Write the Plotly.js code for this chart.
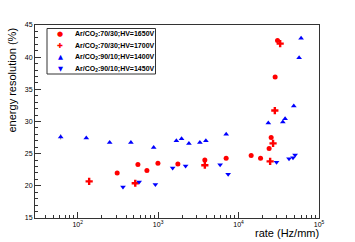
<!DOCTYPE html>
<html><head><meta charset="utf-8">
<script src="https://cdn.plot.ly/plotly-3.0.1.min.js"></script>
<style>html,body{margin:0;padding:0;background:#fff}#c{width:355px;height:242px}</style>
</head><body><div id="c"></div>
<script>
// Data
const seriesNames = [
  "Ar/CO<sub>2</sub>:70/30;HV=1650V",
  "Ar/CO<sub>2</sub>:70/30;HV=1700V",
  "Ar/CO<sub>2</sub>:90/10;HV=1400V",
  "Ar/CO<sub>2</sub>:90/10;HV=1450V"
];
const rate1650 = [310, 561, 726, 995, 1760, 3810, 7010, 14350, 18770, 23990, 25420, 28500, 30500];
const res1650  = [22.0, 23.3, 22.4, 23.5, 23.4, 24.0, 24.3, 24.7, 24.3, 25.8, 27.5, 36.9, 42.6];
const rate1700 = [139, 520, 3810, 24700, 26850, 28250, 32900];
const res1700  = [20.7, 20.4, 23.2, 23.8, 26.6, 31.7, 42.1];
const rate1400 = [61.5, 128, 250, 459, 881, 1687, 1957, 2415, 3306, 3925, 7020, 23440, 35500, 37900, 48600, 56600, 59900];
const res1400  = [27.6, 27.45, 26.75, 26.75, 25.95, 27.0, 27.3, 26.57, 26.75, 27.0, 28.0, 29.75, 29.94, 30.43, 32.4, 39.9, 42.95];
const err1400  = [0.4, 0, 0, 0, 0, 0, 0, 0, 0, 0, 0, 0, 0, 0, 0, 0, 0];
const rate1450 = [366, 581, 925, 1517, 2197, 5903, 7425, 29650, 42400, 47500, 50450];
const res1450  = [19.8, 20.6, 20.2, 22.76, 23.07, 23.29, 21.79, 23.65, 24.22, 24.35, 24.78];
const xTickVals = [100, 1000, 10000, 100000];
const xTickText = ["10<sup>2</sup>", "10<sup>3</sup>", "10<sup>4</sup>", "10<sup>5</sup>"];
const xTitle = "rate (Hz/mm)";
const yTitle = "energy resolution (%)";

const colors = ["#ff0000", "#ff0000", "#0000ff", "#0000ff"];
const symbols = ["circle", "cross", "triangle-up", "triangle-down"];
const glyphs = ["\u25CF", "\u271A", "\u25B2", "\u25BC"];
const xs = [rate1650, rate1700, rate1400, rate1450];
const ys = [res1650, res1700, res1400, res1450];
const sizes = [5, 6, 5, 5];

const traces = xs.map((x, i) => {
  const t = {x: x, y: ys[i], type: "scatter", mode: "markers", name: seriesNames[i],
    marker: {color: colors[i], symbol: symbols[i], size: sizes[i], line: {width: 0}},
    showlegend: false, hoverinfo: "skip"};
  if (i === 2) t.error_y = {type: "data", array: err1400, color: "#888", thickness: 1, width: 0};
  return t;
});

const L = 35, R = 36, T = 25, B = 24, W = 355, H = 242;
const pw = W - L - R, ph = H - T - B;
const px = v => (v - L) / pw;
const py = v => (H - B - v) / ph;

const annotations = [];
const rowY = [34, 45.5, 57, 68.5];
const glyphSize = [7, 7, 6.5, 6.5];
seriesNames.forEach((n, i) => {
  annotations.push({xref: "paper", yref: "paper", x: px(60), y: py(rowY[i]), text: glyphs[i],
    showarrow: false, xanchor: "center", yanchor: "middle",
    font: {family: "DejaVu Sans", size: glyphSize[i], color: colors[i]}});
  annotations.push({xref: "paper", yref: "paper", x: px(73), y: py(rowY[i]), text: "<b>" + n + "</b>",
    showarrow: false, xanchor: "left", yanchor: "middle",
    font: {family: "Liberation Sans", size: 7, color: "#000"}});
});
annotations.push({xref: "paper", yref: "paper", x: 1, y: py(233), text: xTitle, showarrow: false,
  xanchor: "right", yanchor: "middle", xshift: 2, font: {family: "Liberation Sans", size: 11, color: "#000"}});
annotations.push({xref: "paper", yref: "paper", x: px(11), y: 1, text: yTitle, showarrow: false,
  textangle: -90, xanchor: "center", yanchor: "top", yshift: -1, font: {family: "Liberation Sans", size: 11, color: "#000"}});

const layout = {
  width: W, height: H,
  margin: {l: L, r: R, t: T, b: B, pad: 0},
  paper_bgcolor: "#fff", plot_bgcolor: "#fff",
  showlegend: false,
  font: {family: "Liberation Sans", color: "#000"},
  xaxis: {type: "log", range: [Math.log10(29.5), 5], showgrid: false, zeroline: false,
    showline: true, linecolor: "#333", linewidth: 1, mirror: true,
    ticks: "inside", ticklen: 6, tickcolor: "#333", tickwidth: 1,
    tickvals: xTickVals, ticktext: xTickText, tickfont: {size: 7, family: "Liberation Sans"},
    minor: {ticks: "inside", ticklen: 3, tickcolor: "#333", dtick: "D1", showgrid: false}},
  yaxis: {range: [15, 45], showgrid: false, zeroline: false,
    showline: true, linecolor: "#333", linewidth: 1, mirror: true,
    ticks: "inside", ticklen: 6, tickcolor: "#333", tickwidth: 1, dtick: 5, tick0: 15,
    tickfont: {size: 7, family: "Liberation Sans"},
    minor: {ticks: "inside", ticklen: 3, tickcolor: "#333", dtick: 1, showgrid: false}},
  shapes: [
    {type: "rect", xref: "paper", yref: "paper", x0: px(47), x1: px(155.5), y0: py(28.5), y1: py(74),
      line: {color: "#333", width: 1}, fillcolor: "rgba(0,0,0,0)"}
  ],
  annotations: annotations
};

Plotly.newPlot("c", traces, layout, {staticPlot: true, displayModeBar: false});
</script>
</body></html>
